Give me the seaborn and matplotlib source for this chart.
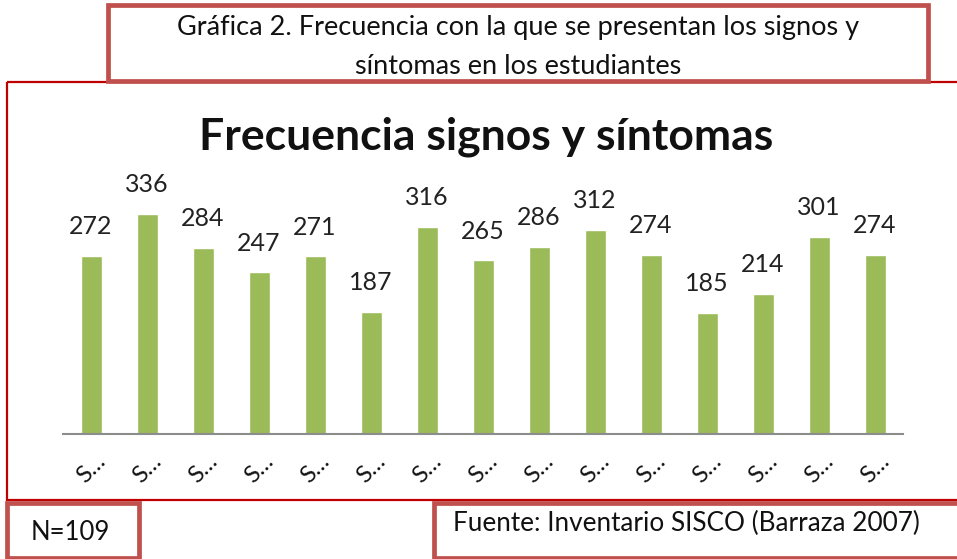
import matplotlib
matplotlib.use("Agg")
import matplotlib.pyplot as plt
import seaborn as sns
import pandas as pd
from matplotlib.patches import Rectangle

# Values per sign/symptom (labels are truncated on the axis)
categories = [f"S{i}" for i in range(1, 16)]
tick_labels = ["S…"] * 15
frequencies = [272, 336, 284, 247, 271, 187, 316, 265, 286, 312, 274, 185, 214, 301, 274]

caption_lines = ["Gráfica 2. Frecuencia con la que se presentan los signos y",
                 "síntomas en los estudiantes"]
chart_title = "Frecuencia signos y síntomas"
sample_note = "N=109"
source_note = "Fuente: Inventario SISCO (Barraza 2007)"

sns.set_theme(style="white")
plt.rcParams["font.family"] = ["Lato", "DejaVu Sans"]

W, H = 957, 559
fig = plt.figure(figsize=(W / 100, H / 100), dpi=100)

# Overlay in pixel coordinates for frames and boxed notes
over = fig.add_axes([0, 0, 1, 1], zorder=0)
over.set_xlim(0, W)
over.set_ylim(H, 0)
over.axis("off")

box_col = "#C0504D"
frame_col = "#C00000"
text_col = "#111111"

# Outer chart frame (thin dark red)
over.add_patch(Rectangle((7, 81.5), 970, 418, fill=False, lw=1.6, ec=frame_col))
# Caption box
over.add_patch(Rectangle((107.5, 5), 820, 76, fill=True, fc="white", lw=3.4, ec=box_col, zorder=3))
over.text(518, 28, caption_lines[0], ha="center", va="center", fontsize=19.5,
          color=text_col, zorder=4)
over.text(518, 66, caption_lines[1], ha="center", va="center", fontsize=19.5,
          color=text_col, zorder=4)
# Sample size box
over.add_patch(Rectangle((7, 503), 132, 55, fill=True, fc="white", lw=3.4, ec=box_col, zorder=3))
over.text(70, 533, sample_note, ha="center", va="center", fontsize=18.5, color=text_col, zorder=4)
# Source box
over.add_patch(Rectangle((434, 503), 560, 55, fill=True, fc="white", lw=3.4, ec=box_col, zorder=3))
over.text(686, 523, source_note, ha="center", va="center", fontsize=18.8, color=text_col, zorder=4)

# Chart title
over.text(486, 137, chart_title, ha="center", va="center", fontsize=32, fontweight="bold",
          color=text_col, zorder=4)

# Bar chart axes
x0, x1 = 63, 903
y_base = 434
ymax = 400
px_per_unit = 0.655
y_top = y_base - ymax * px_per_unit
ax = fig.add_axes([x0 / W, 1 - y_base / H, (x1 - x0) / W, (y_base - y_top) / H], zorder=2)
ax.patch.set_alpha(0)

df = pd.DataFrame({"categoria": categories, "frecuencia": frequencies})
sns.barplot(data=df, x="categoria", y="frecuencia", color="#9BBB59", width=0.375,
            saturation=1, ax=ax)
ax.set_ylim(0, ymax)
ax.set_xlim(-0.5, len(categories) - 0.5)

for i, v in enumerate(frequencies):
    ax.text(i, v + 27, f"{v}", ha="center", va="bottom", fontsize=18, color="#222222")

ax.set_xticks(range(len(categories)))
ax.set_xticklabels(tick_labels, rotation=45, ha="center", va="top", fontsize=17,
                   color=text_col)
ax.tick_params(axis="x", length=0, pad=12)
ax.set_yticks([])
ax.set_xlabel("")
ax.set_ylabel("")
for side in ["top", "left", "right"]:
    ax.spines[side].set_visible(False)
ax.spines["bottom"].set_color("#8C8C8C")
ax.spines["bottom"].set_linewidth(1.5)

fig.savefig("out.png", dpi=100)
